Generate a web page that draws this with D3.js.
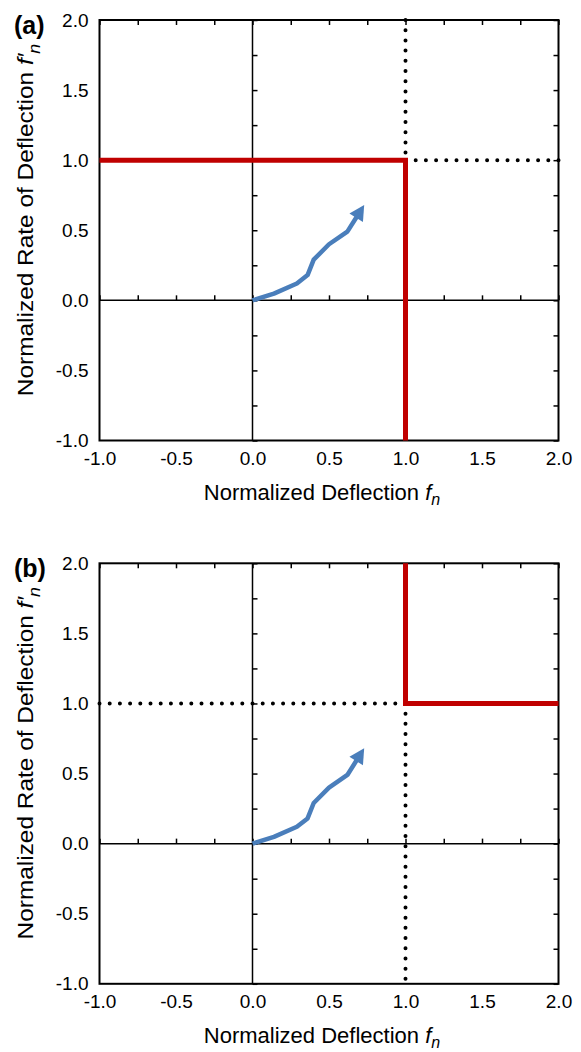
<!DOCTYPE html>
<html>
<head>
<meta charset="utf-8">
<script src="https://cdn.jsdelivr.net/npm/d3@7"></script>
<style>
  html, body { margin: 0; padding: 0; background: #fff; }
  svg { display: block; font-family: "Liberation Sans", Arial, sans-serif; }
</style>
</head>
<body>
<svg id="chart" width="581" height="1052"></svg>
<script>
// Axis ranges and tick labels
const xDomain = [-1, 2];
const yDomain = [-1, 2];
const xTickLabels = [-1.0, -0.5, 0.0, 0.5, 1.0, 1.5, 2.0];
const yTickLabels = [-1.0, -0.5, 0.0, 0.5, 1.0, 1.5, 2.0];
const minorTicks = [-1, -0.75, -0.5, -0.25, 0, 0.25, 0.5, 0.75, 1, 1.25, 1.5, 1.75, 2];

// Trajectory of normalized deflection vs. normalized rate
const trajX = [0, 0.14, 0.29, 0.36, 0.40, 0.50, 0.62, 0.73];
const trajY = [0, 0.048, 0.12, 0.18, 0.29, 0.40, 0.49, 0.68];

// Boundary of the admissible region (red) and its continuation (dotted)
const boundaryA = { x: [-1, 1, 1], y: [1, 1, -1] };
const dottedA = [ { x: [1, 1], y: [2, 1] }, { x: [1, 2], y: [1, 1] } ];
const boundaryB = { x: [1, 1, 2], y: [2, 1, 1] };
const dottedB = [ { x: [-1, 1], y: [1, 1] }, { x: [1, 1], y: [1, -1] } ];

const RED = "#C00000";
const BLUE = "#4A7EBB";
const FONT = "Liberation Sans, Arial, sans-serif";
const fmt = d => d.toFixed(1);

const svg = d3.select("#chart");

function drawPanel(top, label, boundary, dotted) {
  const left = 99.5, right = 558.5;
  const bottom = top + 420.5;
  const x = d3.scaleLinear().domain(xDomain).range([left, right]);
  const y = d3.scaleLinear().domain(yDomain).range([bottom, top]);
  const g = svg.append("g");

  // frame
  g.append("rect")
    .attr("x", left).attr("y", top)
    .attr("width", right - left).attr("height", bottom - top)
    .attr("fill", "none").attr("stroke", "#000").attr("stroke-width", 2);

  // mirror ticks on top and right edges
  g.append("g").attr("transform", `translate(0,${top})`)
    .call(d3.axisBottom(x).tickValues(minorTicks).tickSize(5).tickSizeOuter(0).tickFormat(""))
    .call(a => a.select(".domain").remove())
    .call(a => a.selectAll("line").attr("stroke-width", 1.5));
  g.append("g").attr("transform", `translate(${right},0)`)
    .call(d3.axisLeft(y).tickValues(minorTicks).tickSize(5).tickSizeOuter(0).tickFormat(""))
    .call(a => a.select(".domain").remove())
    .call(a => a.selectAll("line").attr("stroke-width", 1.5));

  // zero lines with ticks
  g.append("line")
    .attr("x1", left).attr("x2", right)
    .attr("y1", y(0)).attr("y2", y(0))
    .attr("stroke", "#000").attr("stroke-width", 1.5);
  g.append("line")
    .attr("x1", x(0)).attr("x2", x(0))
    .attr("y1", top).attr("y2", bottom)
    .attr("stroke", "#000").attr("stroke-width", 1.5);
  g.append("g").attr("transform", `translate(0,${y(0)})`)
    .call(d3.axisTop(x).tickValues(minorTicks).tickSize(5).tickSizeOuter(0).tickFormat(""))
    .call(a => a.select(".domain").remove())
    .call(a => a.selectAll("line").attr("stroke-width", 1.5));
  g.append("g").attr("transform", `translate(${x(0)},0)`)
    .call(d3.axisRight(y).tickValues(minorTicks).tickSize(5).tickSizeOuter(0).tickFormat(""))
    .call(a => a.select(".domain").remove())
    .call(a => a.selectAll("line").attr("stroke-width", 1.5));

  // tick labels
  g.append("g").attr("transform", `translate(${left},0)`)
    .call(d3.axisLeft(y).tickValues(yTickLabels).tickSize(0).tickPadding(11).tickFormat(fmt))
    .call(a => a.select(".domain").remove())
    .call(a => a.selectAll("text").attr("font-size", 19).attr("fill", "#000").attr("font-family", FONT));
  g.append("g").attr("transform", `translate(0,${bottom})`)
    .call(d3.axisBottom(x).tickValues(xTickLabels).tickSize(0).tickPadding(11).tickFormat(fmt))
    .call(a => a.select(".domain").remove())
    .call(a => a.selectAll("text").attr("font-size", 19).attr("fill", "#000").attr("font-family", FONT));

  // dotted continuation
  const line = d3.line().x(d => x(d[0])).y(d => y(d[1]));
  dotted.forEach(seg => {
    g.append("path")
      .attr("d", line(d3.zip(seg.x, seg.y)))
      .attr("fill", "none").attr("stroke", "#000")
      .attr("stroke-width", 4).attr("stroke-linecap", "round")
      .attr("stroke-dasharray", "0 10.2");
  });

  // boundary
  g.append("path")
    .attr("d", line(d3.zip(boundary.x, boundary.y)))
    .attr("fill", "none").attr("stroke", RED)
    .attr("stroke-width", 5).attr("stroke-linejoin", "miter");

  // trajectory with arrowhead
  const pts = d3.zip(trajX, trajY).map(p => [x(p[0]), y(p[1])]);
  const tip = pts[pts.length - 1];
  const prev = pts[pts.length - 2];
  const dx = tip[0] - prev[0], dy = tip[1] - prev[1];
  const len = Math.hypot(dx, dy);
  const ux = dx / len, uy = dy / len;
  const headLen = 15, headHalf = 8;
  const base = [tip[0] - ux * headLen, tip[1] - uy * headLen];
  const shaft = pts.slice(0, -1).concat([[tip[0] - ux * (headLen - 2), tip[1] - uy * (headLen - 2)]]);
  g.append("path")
    .attr("d", d3.line()(shaft))
    .attr("fill", "none").attr("stroke", BLUE)
    .attr("stroke-width", 4.5).attr("stroke-linejoin", "round");
  g.append("path")
    .attr("d", d3.line()([
      tip,
      [base[0] - uy * headHalf, base[1] + ux * headHalf],
      [base[0] + uy * headHalf, base[1] - ux * headHalf]
    ]) + "Z")
    .attr("fill", BLUE);

  // panel label
  g.append("text")
    .attr("x", 14).attr("y", top + 14)
    .attr("font-size", 25).attr("font-weight", "bold")
    .text(label);

  // axis titles
  const xt = g.append("text")
    .attr("x", 322).attr("y", bottom + 59)
    .attr("text-anchor", "middle").attr("font-size", 22);
  xt.append("tspan").text("Normalized Deflection ");
  xt.append("tspan").attr("font-style", "italic").text("f");
  xt.append("tspan").attr("font-style", "italic").attr("font-size", 16).attr("dy", 5).text("n");

  const yt = g.append("text")
    .attr("transform", `translate(33,${top + 200}) rotate(-90) scale(1.11,1)`)
    .attr("text-anchor", "middle").attr("font-size", 22);
  yt.append("tspan").text("Normalized Rate of Deflection ");
  yt.append("tspan").attr("font-style", "italic").text("f′");
  yt.append("tspan").attr("font-style", "italic").attr("font-size", 16).attr("dy", 7).text("n");
}

drawPanel(20, "(a)", boundaryA, dottedA);
drawPanel(563.3, "(b)", boundaryB, dottedB);
</script>
</body>
</html>
